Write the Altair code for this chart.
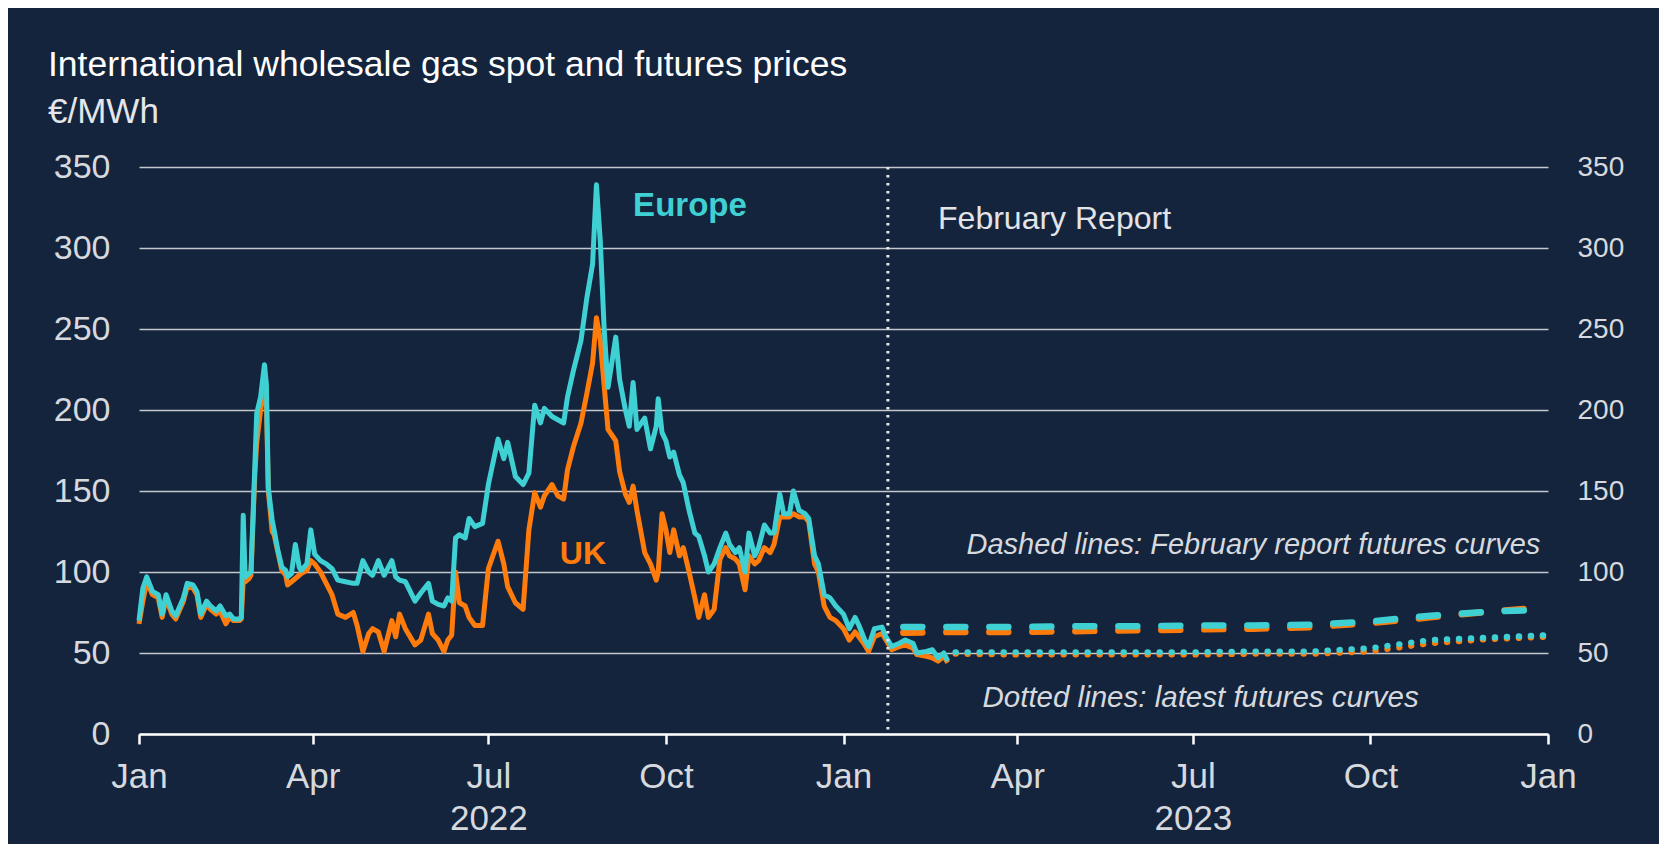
import altair as alt
import pandas as pd

# ---------------- data ----------------
spot_dates = [
    "2022-01-01", "2022-01-03", "2022-01-05", "2022-01-08", "2022-01-11", "2022-01-13", "2022-01-15",
    "2022-01-18", "2022-01-20", "2022-01-24", "2022-01-26", "2022-01-29", "2022-01-31", "2022-02-02",
    "2022-02-05", "2022-02-07", "2022-02-10", "2022-02-12", "2022-02-15", "2022-02-17", "2022-02-19",
    "2022-02-22", "2022-02-23", "2022-02-24", "2022-02-25", "2022-02-27", "2022-02-28", "2022-03-02",
    "2022-03-03", "2022-03-05", "2022-03-07", "2022-03-08", "2022-03-09", "2022-03-11", "2022-03-12",
    "2022-03-14", "2022-03-16", "2022-03-18", "2022-03-19", "2022-03-21", "2022-03-23", "2022-03-25",
    "2022-03-26", "2022-03-29", "2022-03-31", "2022-04-02", "2022-04-05", "2022-04-08", "2022-04-11",
    "2022-04-14", "2022-04-18", "2022-04-22", "2022-04-24", "2022-04-27", "2022-04-30", "2022-05-02",
    "2022-05-05", "2022-05-08", "2022-05-12", "2022-05-14", "2022-05-16", "2022-05-19", "2022-05-24",
    "2022-05-27", "2022-05-31", "2022-06-02", "2022-06-05", "2022-06-08", "2022-06-10", "2022-06-12",
    "2022-06-14", "2022-06-16", "2022-06-19", "2022-06-21", "2022-06-24", "2022-06-28", "2022-07-01",
    "2022-07-06", "2022-07-09", "2022-07-11", "2022-07-15", "2022-07-19", "2022-07-22", "2022-07-25",
    "2022-07-28", "2022-07-30", "2022-08-03", "2022-08-06", "2022-08-09", "2022-08-11", "2022-08-14",
    "2022-08-18", "2022-08-21", "2022-08-24", "2022-08-26", "2022-08-28", "2022-08-30", "2022-09-01",
    "2022-09-05", "2022-09-07", "2022-09-10", "2022-09-12", "2022-09-14", "2022-09-16", "2022-09-20",
    "2022-09-23", "2022-09-26", "2022-09-27", "2022-09-29", "2022-10-01", "2022-10-03", "2022-10-05",
    "2022-10-08", "2022-10-10", "2022-10-13", "2022-10-16", "2022-10-18", "2022-10-21", "2022-10-23",
    "2022-10-26", "2022-10-29", "2022-11-01", "2022-11-03", "2022-11-06", "2022-11-08", "2022-11-11",
    "2022-11-13", "2022-11-16", "2022-11-18", "2022-11-21", "2022-11-24", "2022-11-26", "2022-11-29",
    "2022-12-01", "2022-12-04", "2022-12-06", "2022-12-09", "2022-12-12", "2022-12-14", "2022-12-17",
    "2022-12-19", "2022-12-22", "2022-12-25", "2022-12-28", "2023-01-01", "2023-01-04", "2023-01-07",
    "2023-01-09", "2023-01-12", "2023-01-14", "2023-01-17", "2023-01-21", "2023-01-23", "2023-01-26",
    "2023-01-30", "2023-02-02", "2023-02-06", "2023-02-08", "2023-02-13", "2023-02-16", "2023-02-19",
    "2023-02-22", "2023-02-24",
]
europe_spot = [
    70, 90, 97, 88, 86, 74, 86, 76, 73, 84, 93, 92, 88, 74,
    82, 79, 76, 79, 73, 74, 71, 71, 72, 135, 97, 99, 100, 165,
    198, 208, 228, 216, 152, 132, 126, 113, 103, 101, 97, 99, 117, 103,
    101, 105, 126, 111, 107, 105, 102, 95, 94, 93, 93, 107, 100, 98,
    107, 98, 107, 97, 95, 94, 82, 87, 93, 82, 80, 79, 84, 82,
    121, 123, 121, 133, 128, 130, 154, 182, 170, 180, 159, 154, 161, 203,
    192, 201, 196, 194, 192, 208, 224, 243, 269, 290, 339, 304, 250, 214,
    245, 219, 200, 190, 217, 188, 195, 176, 190, 207, 186, 181, 171, 174,
    160, 155, 138, 124, 122, 110, 100, 105, 115, 124, 117, 112, 115, 100,
    124, 110, 115, 129, 124, 124, 148, 136, 136, 150, 138, 136, 133, 110,
    105, 86, 84, 79, 74, 65, 72, 67, 58, 54, 65, 66, 60, 54,
    56, 58, 56, 50, 51, 52, 47, 50, 45,
]
uk_spot = [
    68, 82, 94, 86, 84, 72, 84, 74, 71, 82, 91, 90, 86, 72,
    80, 77, 74, 76, 68, 72, 70, 70, 71, 95, 94, 96, 98, 160,
    180, 200, 215, 205, 150, 125, 123, 112, 101, 98, 92, 94, 96, 98,
    99, 101, 107, 105, 100, 93, 86, 74, 72, 75, 67, 51, 62, 65,
    63, 51, 70, 60, 74, 65, 55, 58, 74, 62, 58, 51, 58, 61,
    100, 81, 79, 72, 67, 67, 102, 119, 105, 91, 81, 77, 126, 149,
    140, 147, 154, 147, 145, 163, 177, 192, 210, 229, 257, 243, 215, 188,
    181, 162, 148, 143, 153, 138, 112, 105, 95, 100, 136, 126, 112, 126,
    110, 115, 100, 84, 72, 86, 72, 77, 108, 115, 110, 108, 105, 89,
    110, 105, 107, 115, 112, 117, 134, 134, 134, 136, 134, 134, 131, 105,
    100, 79, 72, 70, 65, 58, 63, 60, 55, 51, 60, 62, 58, 52,
    54, 55, 53, 49, 48, 47, 45, 48, 44,
]

feb_dates = [
    "2023-02-01", "2023-03-01", "2023-04-01", "2023-05-01", "2023-06-01", "2023-07-01",
    "2023-08-01", "2023-09-01", "2023-10-01", "2023-11-01", "2023-12-01", "2023-12-24",
]
europe_feb = [66, 66, 66, 66.5, 66.5, 67, 67, 67.5, 69.5, 73, 75.5, 76.5]
uk_feb = [62.5, 63, 63, 63.5, 64, 64.5, 65, 66, 68.5, 72, 75.5, 77.5]

latest_dates = [
    "2023-02-28", "2023-04-01", "2023-05-01", "2023-06-01", "2023-07-01", "2023-08-01",
    "2023-09-01", "2023-10-01", "2023-11-01", "2023-12-01", "2023-12-31",
]
europe_latest = [50.5, 50.5, 50.5, 50.5, 50.5, 51, 51, 53, 58, 59.5, 61]
uk_latest = [49.5, 49, 49, 49, 49, 49.5, 49.5, 51, 56, 58.5, 60]

report_date = ["2023-01-24"]

# ---------------- styling ----------------
BG = "#14243d"
CYAN = "#3fd0d4"
ORANGE = "#ff7c0c"
TXT = "#d6d9de"
GRID = "#c4c8ce"
FONT = "Liberation Sans"


def dt(y, m, d=1):
    return alt.DateTime(year=y, month=m, date=d, utc=True)


XS = alt.Scale(type="utc", domain=[dt(2022, 1), dt(2024, 1)])
YS = alt.Scale(domain=[0, 350], nice=False)

tick_vals = [dt(y, m) for y in (2022, 2023) for m in (1, 4, 7, 10)] + [dt(2024, 1)]
XAX = alt.Axis(
    values=tick_vals,
    labelExpr="utcFormat(datum.value, '%m') == '07' ? [utcFormat(datum.value, '%b'), utcFormat(datum.value, '%Y')] : utcFormat(datum.value, '%b')",
    title=None, grid=False,
    domainColor="#ffffff", domainWidth=2.5,
    tickColor="#ffffff", tickWidth=2.5, tickSize=10,
    labelFontSize=35, labelColor=TXT, labelPadding=15, labelFont=FONT,
    labelFlush=False, labelOverlap=False, labelBound=False, labelLineHeight=42,
)
LEFT = alt.Axis(
    orient="left", values=list(range(0, 351, 50)), title=None,
    grid=True, gridColor=GRID, gridWidth=1.5,
    domain=False, ticks=False, tickSize=0,
    labelFontSize=34, labelColor=TXT, labelPadding=29, labelFont=FONT,
)
RIGHT = alt.Axis(
    orient="right", values=list(range(0, 351, 50)), title=None,
    grid=False, domain=False, ticks=False, tickSize=0,
    labelFontSize=28, labelColor=TXT, labelPadding=29, labelFont=FONT,
)


def frame(dates, values):
    return pd.DataFrame({"date": dates, "value": values})


def xenc():
    return alt.X("date:T", scale=XS, axis=XAX)


def yenc(axis=None):
    return alt.Y("value:Q", scale=YS, axis=axis)


uk_line = alt.Chart(frame(spot_dates, uk_spot)).mark_line(
    color=ORANGE, strokeWidth=5, strokeJoin="round"
).encode(x=xenc(), y=yenc(LEFT))

eu_line = alt.Chart(frame(spot_dates, europe_spot)).mark_line(
    color=CYAN, strokeWidth=5, strokeJoin="round"
).encode(x=xenc(), y=yenc(RIGHT))

uk_dash = alt.Chart(frame(feb_dates, uk_feb)).mark_line(
    color=ORANGE, strokeWidth=6.5, strokeDash=[19, 24], strokeCap="round"
).encode(x=xenc(), y=yenc())

eu_dash = alt.Chart(frame(feb_dates, europe_feb)).mark_line(
    color=CYAN, strokeWidth=6.5, strokeDash=[19, 24], strokeCap="round"
).encode(x=xenc(), y=yenc())

uk_dot = alt.Chart(frame(latest_dates, uk_latest)).mark_line(
    color=ORANGE, strokeWidth=6, strokeDash=[0.5, 11.5], strokeCap="round"
).encode(x=xenc(), y=yenc())

eu_dot = alt.Chart(frame(latest_dates, europe_latest)).mark_line(
    color=CYAN, strokeWidth=6, strokeDash=[0.5, 11.5], strokeCap="round"
).encode(x=xenc(), y=yenc())

report_rule = alt.Chart(pd.DataFrame({"date": report_date})).mark_rule(
    color="#e6e8eb", strokeWidth=3, strokeDash=[2.5, 5.5]
).encode(x=xenc())


def label(date, value, text, **style):
    df = pd.DataFrame({"date": [date], "value": [value], "text": [text]})
    return alt.Chart(df).mark_text(font=FONT, baseline="alphabetic", **style).encode(
        x=xenc(), y=yenc(), text="text:N"
    )


lbl_europe = label("2022-09-14", 320, "Europe", align="left", fontSize=33, fontWeight="bold", color=CYAN)
lbl_uk = label("2022-08-07", 105, "UK", align="left", fontSize=32, fontWeight="bold", color=ORANGE)
lbl_report = label("2023-02-19", 312, "February Report", align="left", fontSize=32, color="#e2e4e8")
lbl_dashed = label("2023-12-28", 111, "Dashed lines: February report futures curves",
                   align="right", fontSize=29, fontStyle="italic", color=TXT)
lbl_dotted = label("2023-07-05", 16.7, "Dotted lines: latest futures curves",
                   align="center", fontSize=29.5, fontStyle="italic", color=TXT)

chart = alt.layer(
    uk_line, eu_line, uk_dash, eu_dash, uk_dot, eu_dot, report_rule,
    lbl_europe, lbl_uk, lbl_report, lbl_dashed, lbl_dotted,
).resolve_scale(y="independent").properties(
    width=1409,
    height=567,
    autosize=alt.AutoSizeParams(type="none"),
    padding={"left": 131, "top": 159, "right": 111, "bottom": 110},
    title=alt.Title(
        text="International  wholesale gas spot and futures prices",
        subtitle="€/MWh",
        anchor="start", frame="group", orient="top",
        dx=-91, offset=20,
        font=FONT, fontSize=35.5, fontWeight="normal", color="#ffffff",
        subtitleFont=FONT, subtitleFontSize=35, subtitleColor="#e4e6ea", subtitlePadding=12,
    ),
).configure(background=BG, font=FONT).configure_view(stroke=None)

chart.save("out.html", embed_options={"renderer": "svg", "actions": False})
